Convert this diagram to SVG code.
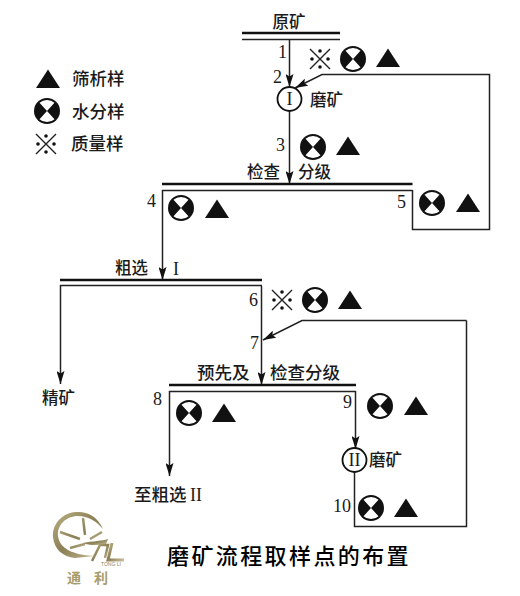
<svg xmlns="http://www.w3.org/2000/svg" width="520" height="596" viewBox="0 0 520 596">
<style>
text{font-family:"Noto Sans CJK SC","Noto Sans CJK JP",sans-serif;fill:#1a1a1a;font-size:16.5px;font-weight:500}
.n{font-family:"Liberation Serif",serif;font-size:18px;font-weight:400}
.c{text-anchor:middle}
.thick{stroke:#111;stroke-width:2.6;fill:none}
.thin{stroke:#222;stroke-width:1.5;fill:none}
.ln{stroke:#222;stroke-width:1.5;fill:none}
.arr{stroke:#222;stroke-width:1.5;fill:none;marker-end:url(#ah)}
</style>
<defs>
<marker id="ah" markerUnits="userSpaceOnUse" markerWidth="13" markerHeight="8" refX="13" refY="4" viewBox="0 0 13 8" orient="auto"><path d="M0 0L13 4L0 8L2.500 4Z" fill="#111"/></marker>
<g id="tri"><path d="M0 -9.500L12 9L-12 9Z" fill="#111"/></g>
<g id="bow"><circle r="13" fill="#111"/><path d="M0 0L-7.500 -8.200A11.100 11.100 0 0 1 7.500 -8.200ZM0 0L-7.500 8.200A11.100 11.100 0 0 0 7.500 8.200Z" fill="#fff"/></g>
<g id="mass"><path d="M-10 -10L10 10M10 -10L-10 10" stroke="#222" stroke-width="1.4" fill="none"/><circle cx="-8" r="1.800" fill="#111"/><circle cx="8" r="1.800" fill="#111"/><circle cy="-8" r="1.800" fill="#111"/><circle cy="8" r="1.800" fill="#111"/></g>
<linearGradient id="gold" x1="0" y1="0" x2="1" y2="1"><stop offset="0" stop-color="#bdb184"/><stop offset=".5" stop-color="#8a7f55"/><stop offset="1" stop-color="#c9bf98"/></linearGradient>
</defs>

<g id="connectors">
<path class="arr" d="M289.500 40V87"/>
<path class="arr" d="M412.500 190V229.500H489.500V74.500H322L295 88"/>
<path class="arr" d="M289.500 111V184"/>
<path class="arr" d="M162.500 190V280"/>
<path class="arr" d="M60.500 285V384"/>
<path class="arr" d="M261.500 286V385"/>
<path class="arr" d="M466.500 320.500H302L263 340"/>
<path class="ln" d="M466.500 320.500V526.500H354.500V472"/>
<path class="arr" d="M169.500 391V476"/>
<path class="arr" d="M355.500 391V449"/>
</g>

<g id="feed"><path class="thick" d="M242 33H340"/><path class="thin" d="M242 39.500H340"/><text class="c" x="289" y="28">原矿</text></g>
<g id="mill1"><circle cx="289.500" cy="99" r="12" fill="#fff" stroke="#111" stroke-width="1.800"/><text class="n c" x="289.500" y="105">I</text><text x="310" y="106">磨矿</text></g>
<g id="screen1"><path class="thick" d="M162 184H412.500"/><path class="thin" d="M162 190.500H412.500"/><text x="247" y="178">检查</text><text x="298" y="178">分级</text></g>
<g id="rougher"><path class="thick" d="M60 280H262"/><path class="thin" d="M60 285.500H262"/><text x="115" y="274">粗选</text><text class="n" x="173" y="275">I</text></g>
<g id="screen2"><path class="thick" d="M169 385H356"/><path class="thin" d="M169 391.500H356"/><text x="197" y="379" style="font-size:17.500px">预先及</text><text x="270" y="379" style="font-size:17.500px">检查分级</text></g>
<g id="mill2"><circle cx="354.500" cy="460" r="12" fill="#fff" stroke="#111" stroke-width="1.800"/><text class="n c" x="354.500" y="466">II</text><text x="369" y="466">磨矿</text></g>
<g id="concentrate"><text x="42" y="404">精矿</text></g>
<g id="to-rougher2"><text x="134" y="501" style="font-size:17.500px">至粗选</text><text class="n" x="190" y="501">II</text></g>

<g id="legend">
<use href="#tri" x="48" y="79"/><text x="72" y="85" style="font-size:17.500px">筛析样</text>
<use href="#bow" x="47" y="111"/><text x="72" y="118" style="font-size:17.500px">水分样</text>
<use href="#mass" x="46" y="144"/><text x="71" y="150" style="font-size:17.500px">质量样</text>
</g>

<g id="point1"><text class="n" x="278" y="58">1</text></g>
<g id="point2"><text class="n" x="273" y="83">2</text><use href="#mass" x="320" y="59"/><use href="#bow" x="353" y="59"/><use href="#tri" x="388" y="58"/></g>
<g id="point3"><text class="n" x="276" y="151">3</text><use href="#bow" x="313" y="147"/><use href="#tri" x="348" y="146"/></g>
<g id="point4"><text class="n" x="147" y="207">4</text><use href="#bow" x="181" y="208"/><use href="#tri" x="217" y="209"/></g>
<g id="point5"><text class="n" x="397" y="208">5</text><use href="#bow" x="432" y="203"/><use href="#tri" x="468" y="203"/></g>
<g id="point6"><text class="n" x="249" y="306">6</text><use href="#mass" x="282" y="300"/><use href="#bow" x="315" y="300"/><use href="#tri" x="350" y="300"/></g>
<g id="point7"><text class="n" x="250" y="349">7</text></g>
<g id="point8"><text class="n" x="153" y="405">8</text><use href="#bow" x="189" y="413"/><use href="#tri" x="224" y="413"/></g>
<g id="point9"><text class="n" x="343" y="408">9</text><use href="#bow" x="380" y="406"/><use href="#tri" x="416" y="406"/></g>
<g id="point10"><text class="n" x="333" y="512">10</text><use href="#bow" x="371" y="508"/><use href="#tri" x="406" y="508"/></g>

<g id="logo">
<path d="M103 529C98 516 86 511 76 512C62 513 52 524 53 537C54 549 63 557 75 558L94 556C80 555 60 552 58 536C57 525 66 516 78 516C88 516 96 521 103 529Z" fill="url(#gold)"/>
<path d="M83 518L85 535M60 532L80 539M102 532L90 539M70 548L85 544" fill="none" stroke="url(#gold)" stroke-width="2.500"/>
<path d="M83 543C92 541 103 541 108 539L106 544C98 545 90 546 83 543Z" fill="url(#gold)"/>
<path d="M92 561L100 545L108 545L105 558" fill="none" stroke="url(#gold)" stroke-width="2.500"/>
<path d="M112 543L108 560H124" fill="none" stroke="url(#gold)" stroke-width="3"/>
<text x="101" y="566" style="font-size:5px;fill:#8f8457;font-family:'Liberation Sans',sans-serif;font-weight:400">TONG LI</text>
<text x="67" y="583" style="font-size:14px;fill:#a89c6c;font-weight:700">通</text><text x="94" y="583" style="font-size:14px;fill:#a89c6c;font-weight:700">利</text>
</g>
<g id="title"><text x="167" y="564" style="font-size:22px;letter-spacing:2.400px;fill:#000;font-weight:500">磨矿流程取样点的布置</text></g>
</svg>
